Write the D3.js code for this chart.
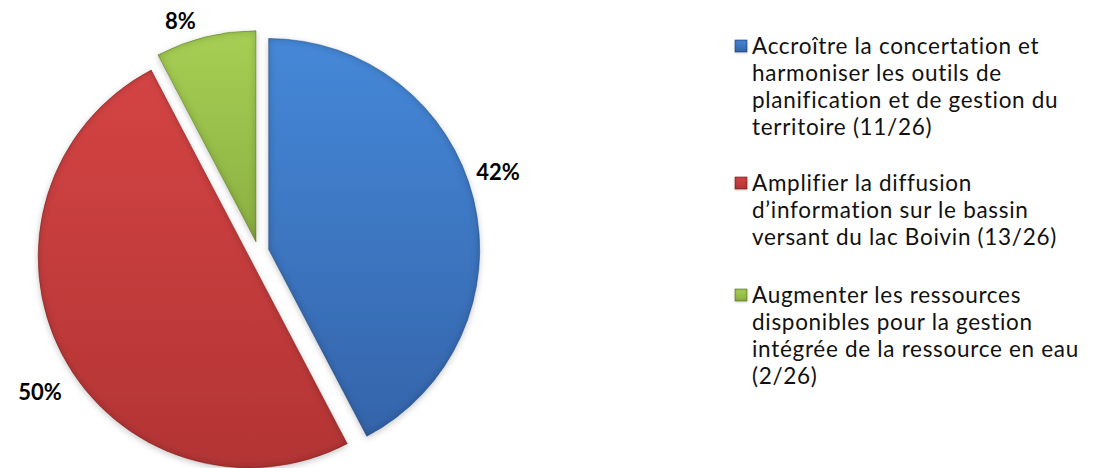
<!DOCTYPE html>
<html>
<head>
<meta charset="utf-8">
<script src="https://cdn.jsdelivr.net/npm/d3@7/dist/d3.min.js"></script>
<style>
  html, body { margin: 0; padding: 0; background: #fff; }
  svg { display: block; }
  text { font-family: Lato, "Open Sans", "DejaVu Sans", sans-serif; }
</style>
</head>
<body>
<svg id="chart" width="1094" height="468"></svg>
<script>
// ---- data ----
const categories = [
  "Accroître la concertation et harmoniser les outils de planification et de gestion du territoire (11/26)",
  "Amplifier la diffusion d’information sur le bassin versant du lac Boivin (13/26)",
  "Augmenter les ressources disponibles pour la gestion intégrée de la ressource en eau (2/26)"
];
const legendLines = [
  ["Accroître la concertation et", "harmoniser les outils de", "planification et de gestion du", "territoire (11/26)"],
  ["Amplifier la diffusion", "d’information sur le bassin", "versant du lac Boivin (13/26)"],
  ["Augmenter les ressources", "disponibles pour la gestion", "intégrée de la ressource en eau", "(2/26)"]
];
const counts = [11, 13, 2];
const colors = [
  { top: "#4588d8", bottom: "#3464aa", edge: "#24497e" },
  { top: "#d44444", bottom: "#b33434", edge: "#7f2222" },
  { top: "#a6cf54", bottom: "#8cb042", edge: "#5e7a2a" }
];

// ---- layout ----
const svg = d3.select("#chart");
const cx = 258.5, cy = 252, R = 211, explode = 10.5;
const defs = svg.append("defs");

function makeFilter(id, blur, shadeOp, shadowBlur, shadowDy, shadowOp) {
  const f = defs.append("filter").attr("id", id)
    .attr("x", "-20%").attr("y", "-20%").attr("width", "140%").attr("height", "140%");
  f.append("feGaussianBlur").attr("in", "SourceAlpha").attr("stdDeviation", blur).attr("result", "b");
  f.append("feComposite").attr("in", "SourceAlpha").attr("in2", "b")
    .attr("operator", "arithmetic").attr("k1", 0).attr("k2", 1).attr("k3", -1).attr("k4", 0).attr("result", "edge");
  f.append("feFlood").attr("flood-color", "#000").attr("flood-opacity", shadeOp).attr("result", "fc");
  f.append("feComposite").attr("in", "fc").attr("in2", "edge").attr("operator", "in").attr("result", "shade");
  f.append("feComposite").attr("in", "shade").attr("in2", "SourceGraphic").attr("operator", "over").attr("result", "shaded");
  f.append("feGaussianBlur").attr("in", "SourceAlpha").attr("stdDeviation", shadowBlur).attr("result", "sb");
  f.append("feOffset").attr("in", "sb").attr("dx", 0).attr("dy", shadowDy).attr("result", "so");
  f.append("feFlood").attr("flood-color", "#000").attr("flood-opacity", shadowOp).attr("result", "sc");
  f.append("feComposite").attr("in", "sc").attr("in2", "so").attr("operator", "in").attr("result", "shadow");
  const m = f.append("feMerge");
  m.append("feMergeNode").attr("in", "shadow");
  m.append("feMergeNode").attr("in", "shaded");
}
makeFilter("bevel", 4, 0.45, 3, 2, 0.22);
makeFilter("bevelSmall", 1.4, 0.55, 1, 1, 0.2);

colors.forEach((c, i) => {
  const g = defs.append("linearGradient").attr("id", "grad" + i)
    .attr("x1", 0).attr("y1", 0).attr("x2", 0).attr("y2", 1);
  g.append("stop").attr("offset", "0%").attr("stop-color", c.top);
  g.append("stop").attr("offset", "100%").attr("stop-color", c.bottom);
});

const pie = d3.pie().sort(null).value(d => d).startAngle(0).endAngle(2 * Math.PI);
const arcs = pie(counts);
const arc = d3.arc().innerRadius(0).outerRadius(R);
const total = d3.sum(counts);
const fmt = d3.format(".0%");

const pieG = svg.append("g").attr("transform", `translate(${cx},${cy})`);
arcs.forEach((a, i) => {
  const mid = (a.startAngle + a.endAngle) / 2;
  const dx = explode * Math.sin(mid), dy = -explode * Math.cos(mid);
  pieG.append("path")
    .attr("d", arc(a))
    .attr("transform", `translate(${dx},${dy})`)
    .attr("fill", `url(#grad${i})`)
    .attr("stroke", colors[i].edge)
    .attr("stroke-width", 0.8)
    .attr("stroke-opacity", 0.6)
    .attr("filter", "url(#bevel)");
});

// percentage labels (outside end)
const labelFont = 22;
const angleShift = -5 * Math.PI / 180;
const gap = 7;
arcs.forEach((a, i) => {
  const mid = (a.startAngle + a.endAngle) / 2;
  const sx = explode * Math.sin(mid), sy = -explode * Math.cos(mid);
  const th = mid + angleShift;
  const t = pieG.append("text")
    .attr("font-size", labelFont)
    .attr("font-weight", "bold")
    .attr("fill", "#000")
    .attr("text-anchor", "middle")
    .attr("dominant-baseline", "central")
    .text(fmt(counts[i] / total));
  const bb = t.node().getBBox();
  const hw = bb.width / 2, hh = bb.height / 2 * 0.85;
  const proj = hw * Math.abs(Math.sin(th)) + hh * Math.abs(Math.cos(th));
  const d = R + gap + proj + (Math.abs(Math.sin(th)) > 0.8 && Math.cos(th) < 0 ? 6 : 0);
  t.attr("x", sx + d * Math.sin(th)).attr("y", sy - d * Math.cos(th));
});

// legend
const legX = 752, markerSize = 12;
const lineH = 27;
const legFont = 22.5;
const itemTops = [54, 191, 303]; // baselines of first line of each item
const legG = svg.append("g");

legendLines.forEach((lines, i) => {
  const base = itemTops[i];
  const t = legG.append("text")
    .attr("x", legX).attr("y", base)
    .attr("font-size", legFont)
    .attr("letter-spacing", 0.7)
    .attr("fill", "#111");
  lines.forEach((ln, j) => {
    t.append("tspan").attr("x", legX).attr("y", base + j * lineH).text(ln);
  });
  legG.append("rect")
    .attr("x", legX - 17).attr("y", base - 14)
    .attr("width", markerSize).attr("height", markerSize)
    .attr("fill", `url(#grad${i})`)
    .attr("stroke", colors[i].edge).attr("stroke-width", 0.6)
    .attr("filter", "url(#bevelSmall)");
});
</script>
</body>
</html>
